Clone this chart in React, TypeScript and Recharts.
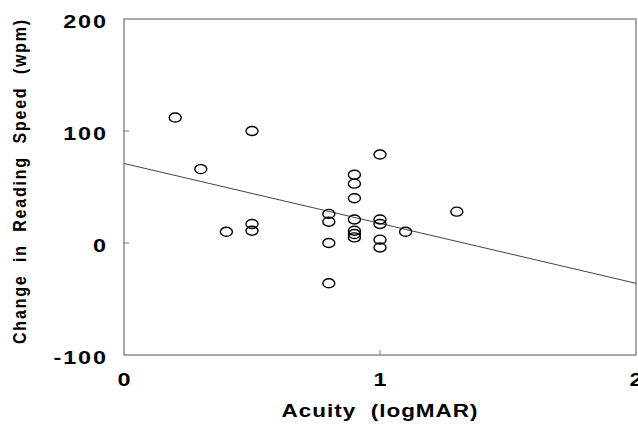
import React from "react";
import {
  ScatterChart,
  Scatter,
  XAxis,
  YAxis,
  ReferenceLine,
  ReferenceArea,
} from "recharts";

const acuity = [
  0.2, 0.3, 0.5, 0.4, 0.5, 0.5,
  0.8, 0.8, 0.8, 0.8,
  0.9, 0.9, 0.9, 0.9, 0.9, 0.9, 0.9,
  1.0, 1.0, 1.0, 1.0, 1.0,
  1.1, 1.3,
];
const speedChange = [
  112, 66, 100, 10, 17, 11,
  26, 19, 0, -36,
  61, 53, 40, 21, 11, 8, 5,
  79, 21, 17, 3, -4,
  10, 28,
];
const fitX = [0, 2];
const fitY = [71, -36];
const xTicks = [0, 1, 2];
const yTicks = [-100, 0, 100, 200];
const xTitle = "Acuity  (logMAR)";
const yTitle = "Change  in  Reading  Speed  (wpm)";

const points = acuity.map((x, i) => ({ x, y: speedChange[i] }));
const FONT = "'Liberation Sans', Arial, sans-serif";
const SX = 1.3;

const Ellipse = (props: any) => {
  const { cx, cy } = props;
  if (cx == null || cy == null) return null;
  return (
    <ellipse cx={cx} cy={cy} rx={6} ry={4.5} fill="none" stroke="#000" strokeWidth={1.4} />
  );
};

const YTick = (props: any) => {
  const { y, payload } = props;
  const v = payload.value;
  const inner = v !== -100 && v !== 200;
  return (
    <g>
      {inner && <line x1={124} x2={129} y1={y} y2={y} stroke="#777" strokeWidth={1} />}
      <text
        transform={`translate(108,${y + 9}) scale(${SX},1)`}
        textAnchor="end"
        fontFamily={FONT}
        fontWeight="bold"
        fontSize={18}
        letterSpacing={1.5}
        fill="#000"
      >
        {v}
      </text>
    </g>
  );
};

const XTick = (props: any) => {
  const { x, payload } = props;
  const v = payload.value;
  const inner = v !== 0 && v !== 2;
  return (
    <g>
      {inner && <line x1={x} x2={x} y1={355} y2={350} stroke="#777" strokeWidth={1} />}
      <text
        transform={`translate(${x},386) scale(${SX},1)`}
        textAnchor="middle"
        fontFamily={FONT}
        fontWeight="bold"
        fontSize={18}
        fill="#000"
      >
        {v}
      </text>
    </g>
  );
};

export default function App() {
  return (
    <div style={{ position: "absolute", left: 0, top: 0, background: "#fff" }}>
      <ScatterChart
        width={638}
        height={427}
        margin={{ top: 19, right: 2, left: 0, bottom: 0 }}
      >
        <XAxis
          type="number"
          dataKey="x"
          domain={[0, 2]}
          ticks={xTicks}
          height={72}
          axisLine={false}
          tickLine={false}
          tick={<XTick />}
          interval={0}
          allowDataOverflow
        />
        <YAxis
          type="number"
          dataKey="y"
          domain={[-100, 200]}
          ticks={yTicks}
          width={124}
          axisLine={false}
          tickLine={false}
          tick={<YTick />}
          interval={0}
          allowDataOverflow
        />
        <ReferenceArea
          x1={0}
          x2={2}
          y1={-100}
          y2={200}
          fill="none"
          fillOpacity={0}
          stroke="#8c8c8c"
          strokeWidth={1.5}
        />
        <ReferenceLine
          segment={[
            { x: fitX[0], y: fitY[0] },
            { x: fitX[1], y: fitY[1] },
          ]}
          stroke="#444"
          strokeWidth={1}
        />
        <Scatter data={points} shape={<Ellipse />} isAnimationActive={false} />
        <text
          transform={`translate(380,417) scale(1.25,1)`}
          textAnchor="middle"
          fontFamily={FONT}
          fontWeight="bold"
          fontSize={18}
          letterSpacing={0.8}
          fill="#000"
          style={{ whiteSpace: "pre" }}
        >
          {xTitle}
        </text>
        <text
          transform={`translate(26,181) rotate(-90) scale(1,1.13)`}
          textAnchor="middle"
          fontFamily={FONT}
          fontWeight="bold"
          fontSize={16}
          letterSpacing={1.8}
          fill="#000"
          style={{ whiteSpace: "pre" }}
        >
          {yTitle}
        </text>
      </ScatterChart>
    </div>
  );
}
